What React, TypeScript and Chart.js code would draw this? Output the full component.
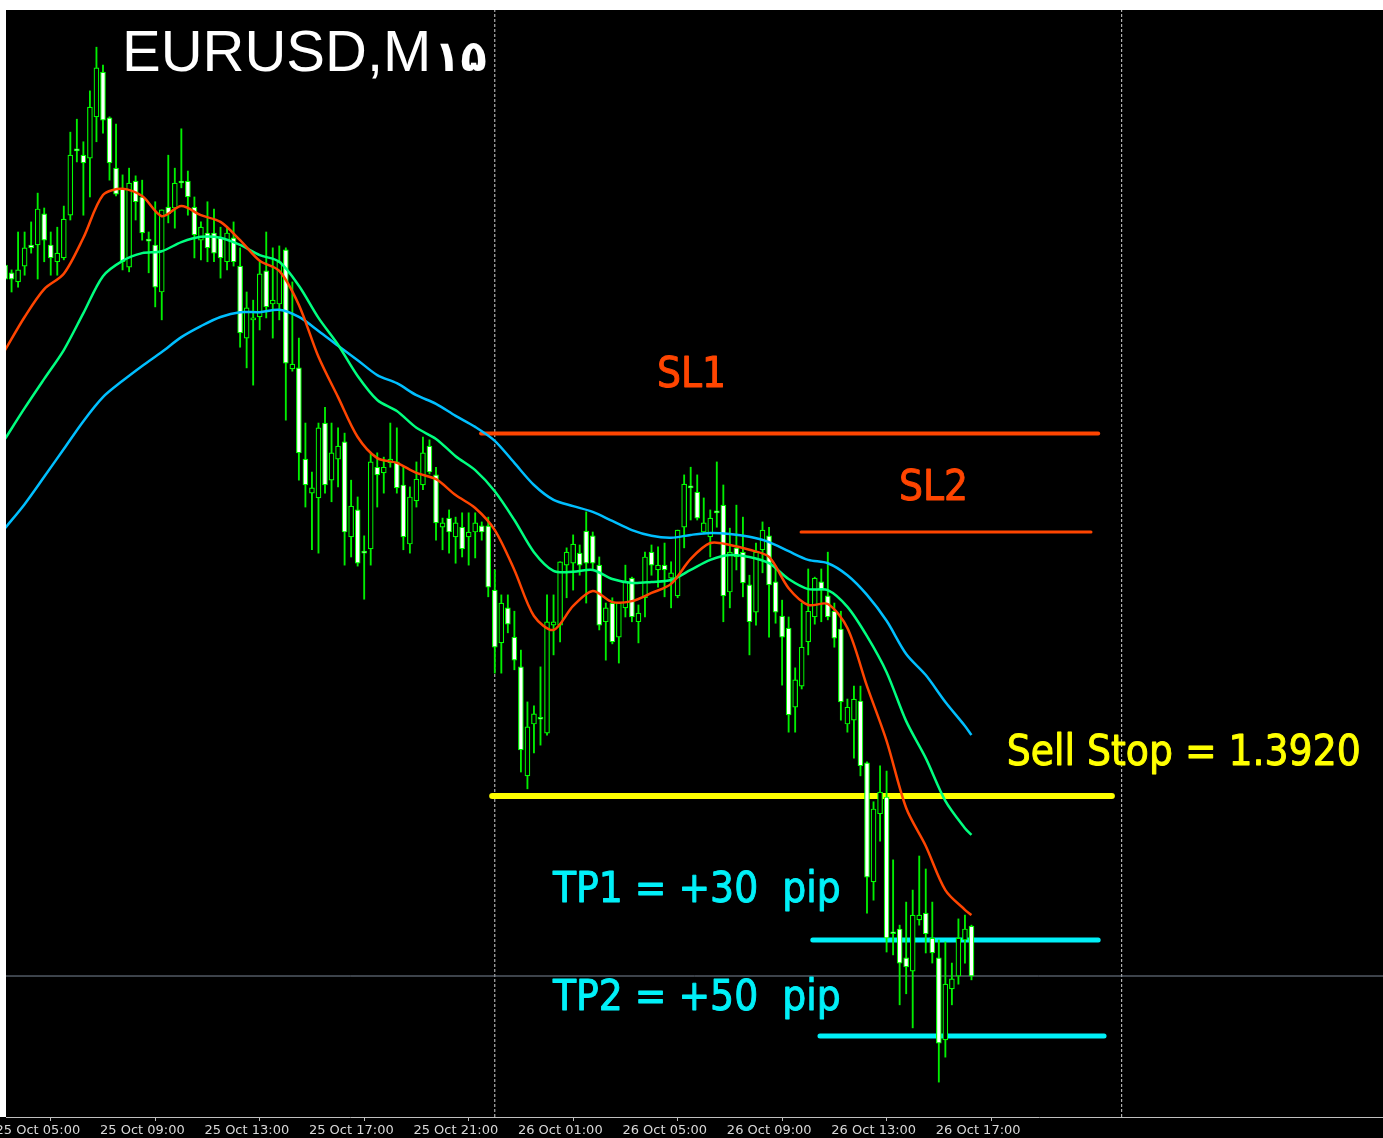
import React, { useEffect, useRef } from 'react';
import { Chart, registerables } from 'chart.js';

Chart.register(...registerables);

// ---- data (EURUSD M15) ----
const firstBar = 1; // bar index of the first candle (bar 0 = 25 Oct 05:00)

const opens = [
  1.40306, 1.40290, 1.40271, 1.40304, 1.40348, 1.40348, 1.40413, 1.40348, 1.40313, 1.40321,
  1.40410, 1.40546, 1.40535, 1.40529, 1.40615, 1.40708, 1.40613, 1.40508, 1.40465, 1.40302,
  1.40481, 1.40448, 1.40358, 1.40348, 1.40250, 1.40427, 1.40425, 1.40481, 1.40481, 1.40427,
  1.40358, 1.40373, 1.40373, 1.40363, 1.40313, 1.40363, 1.40304, 1.40154, 1.40192, 1.40198,
  1.40294, 1.40225, 1.40225, 1.40338, 1.40090, 1.40092, 1.39902, 1.39831, 1.39821, 1.39977,
  1.39858, 1.39902, 1.39938, 1.39740, 1.39796, 1.39708, 1.39715, 1.39885, 1.39873, 1.39894,
  1.39896, 1.39848, 1.39725, 1.39815, 1.39848, 1.39929, 1.39869, 1.39760, 1.39779, 1.39740,
  1.39760, 1.39740, 1.39750, 1.39763, 1.39763, 1.39629, 1.39519, 1.39592, 1.39531, 1.39469,
  1.39242, 1.39350, 1.39363, 1.39331, 1.39556, 1.39556, 1.39681, 1.39685, 1.39706, 1.39752,
  1.39742, 1.39681, 1.39563, 1.39602, 1.39531, 1.39592, 1.39654, 1.39563, 1.39613, 1.39708,
  1.39671, 1.39681, 1.39654, 1.39617, 1.39760, 1.39846, 1.39833, 1.39750, 1.39740, 1.39794,
  1.39806, 1.39625, 1.39717, 1.39708, 1.39640, 1.39583, 1.39713, 1.39742, 1.39646, 1.39575,
  1.39550, 1.39385, 1.39429, 1.39521, 1.39573, 1.39646, 1.39617, 1.39585, 1.39548, 1.39350,
  1.39358, 1.39398, 1.39269, 1.39021, 1.39163, 1.39198, 1.38915, 1.38923, 1.38863, 1.38835,
  1.38942, 1.38956, 1.38904, 1.38863, 1.38692, 1.38798, 1.38825, 1.38900, 1.38929,
];
const highs = [
  1.40317, 1.40296, 1.40375, 1.40375, 1.40396, 1.40456, 1.40425, 1.40375, 1.40385, 1.40429,
  1.40583, 1.40610, 1.40563, 1.40669, 1.40760, 1.40723, 1.40615, 1.40600, 1.40494, 1.40508,
  1.40492, 1.40483, 1.40375, 1.40438, 1.40421, 1.40535, 1.40508, 1.40590, 1.40502, 1.40448,
  1.40396, 1.40438, 1.40423, 1.40385, 1.40385, 1.40396, 1.40342, 1.40250, 1.40233, 1.40313,
  1.40375, 1.40342, 1.40346, 1.40342, 1.40271, 1.40154, 1.39977, 1.39875, 1.39977, 1.40010,
  1.39977, 1.39967, 1.39956, 1.39858, 1.39823, 1.39742, 1.39915, 1.39915, 1.39906, 1.39977,
  1.39967, 1.39885, 1.39844, 1.39896, 1.39948, 1.39942, 1.39885, 1.39779, 1.39796, 1.39781,
  1.39790, 1.39790, 1.39790, 1.39771, 1.39781, 1.39671, 1.39619, 1.39619, 1.39585, 1.39504,
  1.39396, 1.39388, 1.39469, 1.39619, 1.39619, 1.39688, 1.39717, 1.39744, 1.39723, 1.39792,
  1.39750, 1.39698, 1.39602, 1.39613, 1.39602, 1.39681, 1.39656, 1.39598, 1.39708, 1.39723,
  1.39719, 1.39727, 1.39688, 1.39754, 1.39869, 1.39885, 1.39869, 1.39821, 1.39796, 1.39896,
  1.39848, 1.39758, 1.39806, 1.39781, 1.39660, 1.39727, 1.39771, 1.39760, 1.39675, 1.39608,
  1.39573, 1.39467, 1.39602, 1.39673, 1.39656, 1.39673, 1.39708, 1.39602, 1.39585, 1.39402,
  1.39429, 1.39429, 1.39271, 1.39188, 1.39263, 1.39252, 1.39067, 1.38931, 1.38979, 1.39004,
  1.39075, 1.39048, 1.38979, 1.38900, 1.38896, 1.38852, 1.38944, 1.38952, 1.38931,
];
const lows = [
  1.40267, 1.40250, 1.40260, 1.40285, 1.40331, 1.40277, 1.40313, 1.40285, 1.40285, 1.40317,
  1.40400, 1.40521, 1.40410, 1.40448, 1.40563, 1.40581, 1.40483, 1.40450, 1.40296, 1.40292,
  1.40400, 1.40358, 1.40290, 1.40219, 1.40192, 1.40394, 1.40383, 1.40467, 1.40410, 1.40321,
  1.40317, 1.40313, 1.40313, 1.40279, 1.40296, 1.40304, 1.40135, 1.40092, 1.40056, 1.40171,
  1.40196, 1.40154, 1.40192, 1.39983, 1.40085, 1.39858, 1.39802, 1.39713, 1.39706, 1.39831,
  1.39813, 1.39844, 1.39681, 1.39698, 1.39679, 1.39610, 1.39681, 1.39802, 1.39831, 1.39885,
  1.39831, 1.39713, 1.39706, 1.39802, 1.39838, 1.39871, 1.39733, 1.39713, 1.39706, 1.39685,
  1.39698, 1.39681, 1.39696, 1.39733, 1.39615, 1.39456, 1.39456, 1.39540, 1.39463, 1.39250,
  1.39215, 1.39290, 1.39306, 1.39327, 1.39494, 1.39521, 1.39613, 1.39629, 1.39660, 1.39602,
  1.39671, 1.39546, 1.39483, 1.39517, 1.39477, 1.39573, 1.39563, 1.39519, 1.39573, 1.39660,
  1.39635, 1.39615, 1.39592, 1.39613, 1.39717, 1.39775, 1.39775, 1.39746, 1.39698, 1.39760,
  1.39563, 1.39592, 1.39671, 1.39615, 1.39494, 1.39556, 1.39665, 1.39531, 1.39560, 1.39431,
  1.39333, 1.39333, 1.39423, 1.39494, 1.39558, 1.39563, 1.39567, 1.39510, 1.39358, 1.39333,
  1.39279, 1.39242, 1.38956, 1.38983, 1.39106, 1.38875, 1.38869, 1.38765, 1.38788, 1.38717,
  1.38931, 1.38873, 1.38852, 1.38604, 1.38656, 1.38765, 1.38808, 1.38852, 1.38817,
];
const closes = [
  1.40277, 1.40277, 1.40296, 1.40342, 1.40342, 1.40423, 1.40358, 1.40321, 1.40331, 1.40402,
  1.40535, 1.40544, 1.40519, 1.40635, 1.40717, 1.40608, 1.40519, 1.40454, 1.40313, 1.40477,
  1.40438, 1.40373, 1.40356, 1.40260, 1.40421, 1.40413, 1.40477, 1.40477, 1.40448, 1.40369,
  1.40385, 1.40342, 1.40331, 1.40321, 1.40373, 1.40313, 1.40165, 1.40217, 1.40196, 1.40288,
  1.40219, 1.40233, 1.40313, 1.40102, 1.40100, 1.39915, 1.39848, 1.39842, 1.39967, 1.39848,
  1.39915, 1.39929, 1.39750, 1.39804, 1.39685, 1.39706, 1.39896, 1.39869, 1.39885, 1.39902,
  1.39842, 1.39740, 1.39823, 1.39860, 1.39915, 1.39875, 1.39769, 1.39769, 1.39750, 1.39769,
  1.39715, 1.39750, 1.39769, 1.39750, 1.39635, 1.39510, 1.39602, 1.39558, 1.39483, 1.39296,
  1.39344, 1.39371, 1.39360, 1.39563, 1.39563, 1.39688, 1.39708, 1.39725, 1.39681, 1.39685,
  1.39685, 1.39556, 1.39592, 1.39521, 1.39602, 1.39646, 1.39573, 1.39581, 1.39698, 1.39681,
  1.39681, 1.39671, 1.39665, 1.39754, 1.39850, 1.39842, 1.39779, 1.39769, 1.39779, 1.39790,
  1.39617, 1.39708, 1.39698, 1.39644, 1.39563, 1.39708, 1.39754, 1.39640, 1.39583, 1.39531,
  1.39369, 1.39442, 1.39510, 1.39585, 1.39654, 1.39629, 1.39573, 1.39529, 1.39396, 1.39385,
  1.39402, 1.39263, 1.39031, 1.39173, 1.39208, 1.38904, 1.38913, 1.38852, 1.38844, 1.38952,
  1.38952, 1.38913, 1.38873, 1.38685, 1.38808, 1.38819, 1.38904, 1.38923, 1.38825,
];

// moving averages, read at these bar indices
const maBars = [
  1, 4, 7, 10, 13, 16, 19, 22, 25, 28, 31, 34, 37, 40, 43, 46, 49, 52, 55, 58,
  61, 64, 67, 70, 73, 76, 79, 82, 85, 88, 91, 94, 97, 100, 103, 106, 109, 112, 115, 118,
  121, 124, 127, 130, 133, 136, 139, 142, 145, 148, 149,
];
const maFast = [
  1.40129, 1.40198, 1.40256, 1.40288, 1.40363, 1.40452, 1.40465, 1.40450, 1.40408, 1.40429,
  1.40410, 1.40396, 1.40358, 1.40315, 1.40294, 1.40223, 1.40115, 1.40031, 1.39948, 1.39904,
  1.39894, 1.39873, 1.39860, 1.39827, 1.39800, 1.39754, 1.39671, 1.39575, 1.39546, 1.39596,
  1.39627, 1.39604, 1.39606, 1.39623, 1.39642, 1.39694, 1.39727, 1.39723, 1.39713, 1.39698,
  1.39633, 1.39598, 1.39600, 1.39550, 1.39429, 1.39315, 1.39175, 1.39096, 1.39004, 1.38963, 1.38952,
];
const maMid = [
  1.39944, 1.40008, 1.40069, 1.40129, 1.40206, 1.40283, 1.40315, 1.40331, 1.40335, 1.40354,
  1.40365, 1.40363, 1.40348, 1.40327, 1.40313, 1.40263, 1.40196, 1.40140, 1.40075, 1.40025,
  1.40002, 1.39967, 1.39944, 1.39908, 1.39879, 1.39835, 1.39775, 1.39708, 1.39669, 1.39667,
  1.39671, 1.39652, 1.39644, 1.39646, 1.39650, 1.39671, 1.39692, 1.39702, 1.39698, 1.39685,
  1.39652, 1.39631, 1.39629, 1.39594, 1.39533, 1.39458, 1.39356, 1.39279, 1.39190, 1.39133, 1.39119,
];
const maSlow = [
  1.39758, 1.39808, 1.39865, 1.39923, 1.39981, 1.40031, 1.40065, 1.40096, 1.40125, 1.40156,
  1.40179, 1.40198, 1.40208, 1.40208, 1.40213, 1.40198, 1.40169, 1.40138, 1.40108, 1.40077,
  1.40060, 1.40035, 1.40017, 1.39992, 1.39969, 1.39940, 1.39894, 1.39848, 1.39817, 1.39804,
  1.39792, 1.39773, 1.39754, 1.39742, 1.39738, 1.39744, 1.39748, 1.39746, 1.39740, 1.39729,
  1.39710, 1.39692, 1.39685, 1.39660, 1.39619, 1.39565, 1.39496, 1.39452, 1.39396, 1.39346, 1.39327,
];

// time axis
const tickBars = [0, 16, 32, 48, 64, 80, 96, 112, 128, 144];
const tickLabels = [
  '25 Oct 05:00', '25 Oct 09:00', '25 Oct 13:00', '25 Oct 17:00', '25 Oct 21:00',
  '26 Oct 01:00', '26 Oct 05:00', '26 Oct 09:00', '26 Oct 13:00', '26 Oct 17:00',
];
const daySeparatorBars = [76, 172];

// trade levels (price, start bar, end bar)
const levelNames = ['SL1', 'SL2', 'Sell Stop', 'TP1', 'TP2'];
const levelPrices = [1.39955, 1.3975, 1.392, 1.389, 1.387];
const levelFrom = [73.9, 122.9, 75.6, 124.7, 125.8];
const levelTo = [168.4, 167.3, 170.5, 168.4, 169.3];
const bidPrice = 1.38825;

const titleSymbol = 'EURUSD,M';
const titlePeriod = '۱۵';
const noteTexts = ['SL1', 'SL2', 'Sell Stop = 1.3920', 'TP1 = +30  pip', 'TP2 = +50  pip'];

// ---- view ----
const X_MIN = 1.1485;
const X_MAX = 212.02;
const Y_MIN = 1.385313;
const Y_MAX = 1.408375;

const levelColors = ['#FF4500', '#FF4500', '#FFFF00', '#00F0F8', '#00F0F8'];
const levelWidths = [4, 3, 6, 5, 5];
const noteColors = ['#FF4500', '#FF4500', '#FFFF00', '#00F0F8', '#00F0F8'];
const notePos = [
  [100.84, 1.40052],
  [137.9, 1.39817],
  [154.4, 1.39265],
  [84.9, 1.38979],
  [84.9, 1.38754],
];

const bgPlugin = {
  id: 'mtBackground',
  beforeDraw(chart: any) {
    const { ctx, width, height, chartArea } = chart;
    ctx.save();
    ctx.fillStyle = '#000000';
    ctx.fillRect(chartArea.left, 0, width - chartArea.left, height);
    ctx.fillRect(0, chartArea.bottom, width, height - chartArea.bottom);
    ctx.restore();
  },
};

const textPlugin = {
  id: 'mtTexts',
  afterDatasetsDraw(chart: any) {
    const { ctx, chartArea, scales } = chart;
    ctx.save();
    ctx.textAlign = 'left';
    ctx.textBaseline = 'alphabetic';
    ctx.fillStyle = '#FFFFFF';
    ctx.font = '58px "Liberation Sans", "DejaVu Sans", sans-serif';
    const tx = chartArea.left + 116;
    const ty = chartArea.top + 61;
    ctx.fillText(titleSymbol, tx, ty);
    const w = ctx.measureText(titleSymbol).width;
    ctx.font = 'bold 43px "DejaVu Sans", sans-serif';
    ctx.fillText(titlePeriod, tx + w + 3, ty);
    ctx.font = '42px "DejaVu Sans Condensed", "DejaVu Sans", sans-serif';
    ctx.lineWidth = 0.9;
    ctx.lineJoin = 'round';
    noteTexts.forEach((t, k) => {
      ctx.fillStyle = noteColors[k];
      ctx.strokeStyle = noteColors[k];
      const px = scales.x.getPixelForValue(notePos[k][0]);
      const py = scales.y.getPixelForValue(notePos[k][1]);
      ctx.fillText(t, px, py);
      ctx.strokeText(t, px, py);
    });
    ctx.restore();
  },
};

export default function App() {
  const canvasRef = useRef<HTMLCanvasElement | null>(null);

  useEffect(() => {
    const canvas = canvasRef.current;
    if (!canvas) return;

    const wickData = opens.map((_, k) => ({ x: k + firstBar, y: [lows[k], highs[k]] }));
    const bodyData = opens.map((o, k) => ({
      x: k + firstBar,
      y: [Math.min(o, closes[k]), Math.max(o, closes[k])],
    }));
    const bodyFill = opens.map((o, k) => (closes[k] < o ? '#FFFFFF' : '#000000'));

    const maLine = (vals: number[], color: string, order: number) => ({
      type: 'line' as const,
      data: maBars.map((b, k) => ({ x: b, y: vals[k] })),
      borderColor: color,
      borderWidth: 2.5,
      pointRadius: 0,
      tension: 0.3,
      order,
    });

    const levelSets = levelNames.map((name, k) => ({
      type: 'line' as const,
      label: name,
      data: [
        { x: levelFrom[k], y: levelPrices[k] },
        { x: levelTo[k], y: levelPrices[k] },
      ],
      borderColor: levelColors[k],
      borderWidth: levelWidths[k],
      borderCapStyle: 'round' as const,
      pointRadius: 0,
      order: 8,
    }));

    const sepSets = daySeparatorBars.map((b) => ({
      type: 'line' as const,
      data: [
        { x: b, y: Y_MIN },
        { x: b, y: Y_MAX },
      ],
      borderColor: '#D0D0D0',
      borderWidth: 1,
      borderDash: [3, 2],
      pointRadius: 0,
      order: 10,
    }));

    const chart = new Chart(canvas, {
      type: 'bar',
      data: {
        datasets: [
          ...sepSets,
          {
            type: 'line',
            data: [
              { x: X_MIN, y: bidPrice },
              { x: X_MAX, y: bidPrice },
            ],
            borderColor: '#7A8696',
            borderWidth: 1,
            pointRadius: 0,
            order: 9,
          },
          ...levelSets,
          {
            type: 'bar',
            data: wickData,
            backgroundColor: '#00F000',
            borderWidth: 0,
            barThickness: 1.2,
            grouped: false,
            order: 5,
          },
          {
            type: 'bar',
            data: bodyData,
            backgroundColor: bodyFill,
            borderColor: '#00FF00',
            borderWidth: 1.2,
            borderSkipped: false,
            barThickness: 5,
            minBarLength: 2,
            grouped: false,
            order: 4,
          },
          maLine(maSlow, '#00BFFF', 3),
          maLine(maMid, '#00FF7F', 2),
          maLine(maFast, '#FF4500', 1),
        ] as any,
      },
      options: {
        animation: false,
        responsive: false,
        events: [],
        layout: { padding: { left: 6, top: 0, right: 0, bottom: 0 } },
        plugins: { legend: { display: false }, tooltip: { enabled: false } },
        scales: {
          x: {
            type: 'linear',
            min: X_MIN,
            max: X_MAX,
            offset: false,
            afterBuildTicks: (axis: any) => {
              axis.ticks = tickBars.map((v) => ({ value: v }));
            },
            afterFit: (axis: any) => {
              axis.height = 21;
              axis.paddingLeft = 0;
              axis.paddingRight = 0;
            },
            ticks: {
              autoSkip: false,
              maxRotation: 0,
              minRotation: 0,
              align: 'start',
              labelOffset: -3,
              padding: 2,
              color: '#D8D8D8',
              font: { family: '"DejaVu Sans", sans-serif', size: 13 },
              callback: (value: any) => {
                const k = tickBars.indexOf(Number(value));
                return k >= 0 ? tickLabels[k] : '';
              },
            },
            grid: {
              display: true,
              drawOnChartArea: false,
              drawTicks: true,
              tickLength: 4,
              color: '#BFBFBF',
            },
            border: { display: true, color: '#BFBFBF', width: 1 },
          },
          y: {
            type: 'linear',
            display: false,
            min: Y_MIN,
            max: Y_MAX,
          },
        },
      } as any,
      plugins: [bgPlugin, textPlugin],
    });

    return () => chart.destroy();
  }, []);

  return (
    <div
      style={{
        position: 'absolute',
        left: 0,
        top: 0,
        width: 1383,
        height: 1138,
        background: '#FFFFFF',
        overflow: 'hidden',
      }}
    >
      <canvas
        ref={canvasRef}
        width={1383}
        height={1128}
        style={{ position: 'absolute', left: 0, top: 10, width: 1383, height: 1128, display: 'block' }}
      />
    </div>
  );
}
